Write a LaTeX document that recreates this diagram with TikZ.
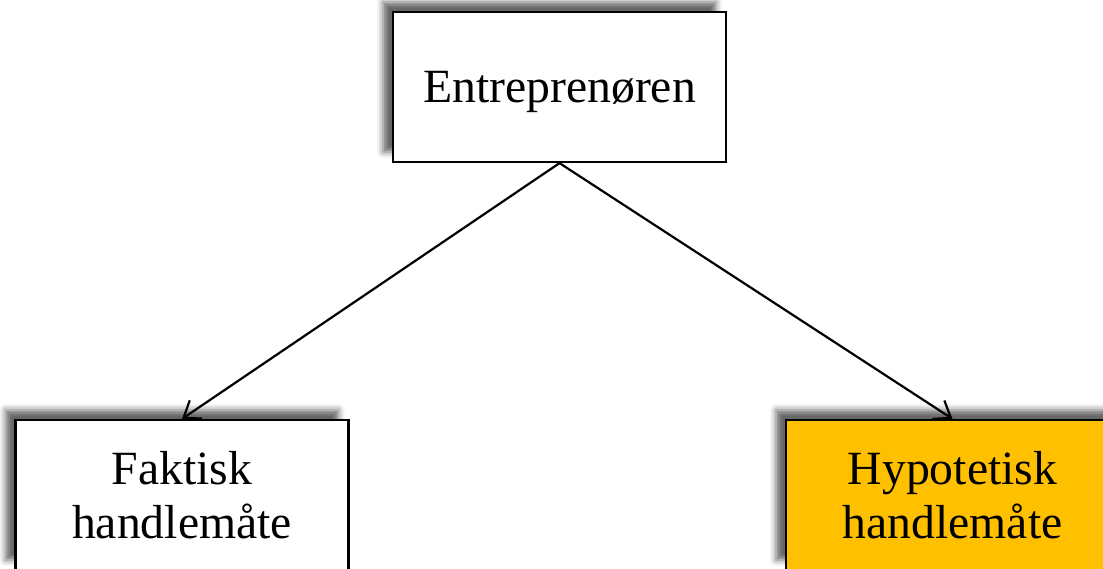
\documentclass[tikz,border=0pt]{standalone}
\usepackage{fontspec}
\setmainfont{Liberation Serif}
\usetikzlibrary{arrows.meta,shadows.blur}
\definecolor{amber}{HTML}{FFC000}
\begin{document}
\begin{tikzpicture}[x=1pt,y=-1pt,
  box/.style={draw=black, line width=2.2pt, fill=white,
    minimum width=333pt, minimum height=150pt, inner sep=0pt,
    align=center, font=\fontsize{47.7}{54}\selectfont,
    blur shadow={shadow xshift=-10pt, shadow yshift=10pt,
      shadow blur radius=6pt, shadow opacity=60}},
  link/.style={line width=2.2pt,
    -{Straight Barb[length=15pt,width=22pt,line width=2.2pt]}}]
  \useasboundingbox (0,0) rectangle (1103,568);
  % actor and the two ways of acting
  \node[box, text depth=0pt] (actor) at (559.5,87) {Entreprenøren};
  \node[box] (actual) at (182,495) {Faktisk\\handlemåte};
  \node[box, fill=amber] (hypo) at (952.5,495) {Hypotetisk\\handlemåte};
  % connectors
  \draw[link] (actor.south) -- (actual.north);
  \draw[link] (actor.south) -- (hypo.north);
\end{tikzpicture}
\end{document}
